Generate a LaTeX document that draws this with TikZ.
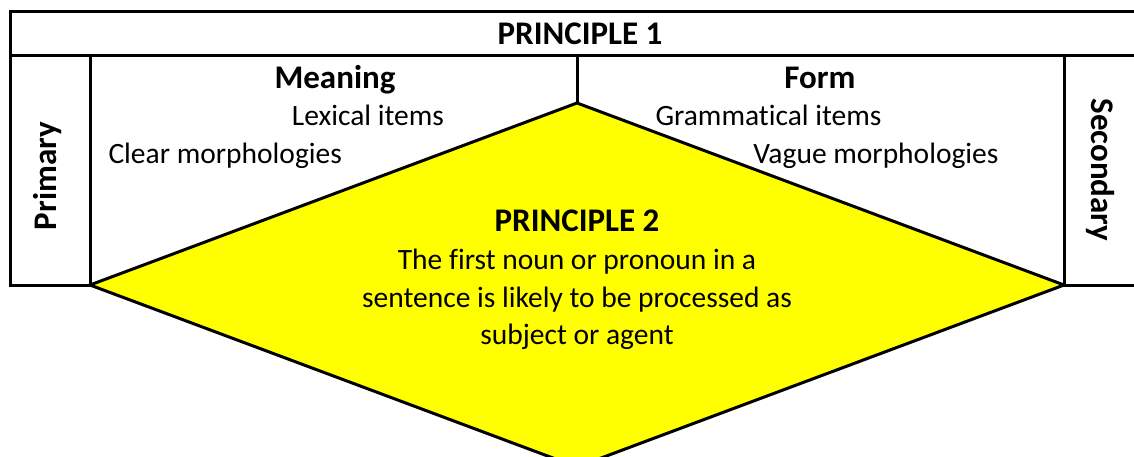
\documentclass[tikz,border=0pt]{standalone}
\usepackage{fontspec}
\setmainfont{Carlito}[Ligatures={NoCommon}]
\definecolor{dyellow}{RGB}{255,255,0}
\begin{document}
\begin{tikzpicture}[x=1pt,y=-1pt, line width=3pt,
  txt/.style={inner sep=0pt, font=\fontsize{29.5}{37.5}\selectfont},
  btxt/.style={inner sep=0pt, font=\fontsize{33}{40}\selectfont\bfseries}]
\useasboundingbox (0,0) rectangle (1134,457);
\begin{scope}
\clip (0,0) rectangle (1134,457);
% table grid
\coordinate (TL) at (10,12);
\coordinate (TR) at (1140,12);
\coordinate (HL) at (10,56);
\coordinate (HR) at (1140,56);
\coordinate (BL) at (10,285);
\coordinate (BR) at (1140,285);
\coordinate (LD) at (90,56);
\coordinate (LDb) at (90,285);
\coordinate (RD) at (1064,56);
\coordinate (RDb) at (1064,285);
\coordinate (MD) at (577,56);
\draw (TR) -- (TL) -- (BL) -- (BR);
\draw (HL) -- (HR);
\draw (LD) -- (LDb);
\draw (RD) -- (RDb);
% diamond
\coordinate (DT) at (577,103);
\coordinate (DR) at (1064,285);
\coordinate (DB) at (577,467);
\coordinate (DL) at (90,285);
\draw (MD) -- (DT);
\draw[fill=dyellow, line join=miter] (DT) -- (DR) -- (DB) -- (DL) -- cycle;
\end{scope}
% texts
\node[btxt, anchor=base] (p1) at (580,45) {PRINCIPLE 1};
\node[btxt, anchor=base] (mean) at (335,89) {Meaning};
\node[txt, anchor=base] (lex) at (368,126) {Lexical items};
\node[txt, anchor=base west] (clear) at (107,164) {Clear morphologies};
\node[btxt, anchor=base] (form) at (820,89) {Form};
\node[txt, anchor=base west] (gram) at (654,126) {Grammatical items};
\node[txt, anchor=base east] (vague) at (1000,164) {Vague morphologies};
\node[btxt, anchor=base] (p2) at (577,231) {PRINCIPLE 2};
\node[txt, anchor=base] (p2a) at (577,269) {The first noun or pronoun in a};
\node[txt, anchor=base] (p2b) at (577,307) {sentence is likely to be processed as};
\node[txt, anchor=base] (p2c) at (577,344) {subject or agent};
\node[btxt, rotate=90] (prim) at (48,176) {Primary};
\node[btxt, rotate=-90] (sec) at (1100,170) {Secondary};
\end{tikzpicture}
\end{document}
